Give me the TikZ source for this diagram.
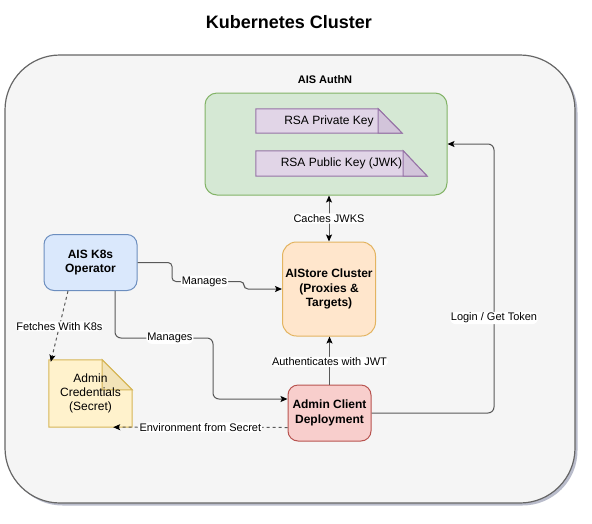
\documentclass[tikz,border=0pt]{standalone}
\usepackage{fontspec}
\setmainfont{Liberation Sans}
\usetikzlibrary{arrows.meta,shadows}
\definecolor{contfill}{HTML}{F5F5F5}
\definecolor{contdraw}{HTML}{666666}
\definecolor{grfill}{HTML}{D5E8D4}
\definecolor{grdraw}{HTML}{82B366}
\definecolor{pufill}{HTML}{E1D5E7}
\definecolor{pudraw}{HTML}{9673A6}
\definecolor{pufold}{HTML}{D2C4DA}
\definecolor{blfill}{HTML}{DAE8FC}
\definecolor{bldraw}{HTML}{6C8EBF}
\definecolor{orfill}{HTML}{FFE6CC}
\definecolor{ordraw}{HTML}{E3B461}
\definecolor{rdfill}{HTML}{F8CECC}
\definecolor{rddraw}{HTML}{B85450}
\definecolor{yefill}{HTML}{FFF2CC}
\definecolor{yedraw}{HTML}{D6B656}
\definecolor{yefold}{HTML}{F2E3B8}
\definecolor{shadowcol}{HTML}{8A8FA8}
\pgfdeclarelayer{back}
\pgfdeclarelayer{shapes}
\pgfsetlayers{back,shapes,main}
\begin{document}
\begin{tikzpicture}[x=1pt,y=-1pt,
  box/.style={draw, rounded corners=10pt, line width=1pt, align=center,
    font=\bfseries\fontsize{12}{14.5}\selectfont, inner sep=0pt},
  plain/.style={inner sep=0pt, align=center, font=\fontsize{12}{14}\selectfont},
  lbl/.style={fill=white, inner sep=1pt, font=\fontsize{11}{13}\selectfont, text=black},
  conn/.style={draw=black!65, line width=1pt, rounded corners=6pt,
    -{Stealth[length=7pt,width=6pt,inset=1.5pt,color=black]}},
  dconn/.style={conn, dash pattern=on 3pt off 3pt},
  keyshape/.style={fill=pufill, draw=pudraw, line width=1pt},
  notefold/.style={line width=1pt}
]
\useasboundingbox (0,0) rectangle (592,523);

\begin{pgfonlayer}{back}
\node[draw=contdraw, fill=contfill, line width=1.2pt, rounded corners=55pt,
  minimum width=570pt, minimum height=448pt,
  drop shadow={shadow xshift=2.5pt, shadow yshift=-2.5pt, fill=shadowcol, opacity=0.6}]
  (k8s) at (290,279) {};
\node[draw=grdraw, fill=grfill, line width=1pt, rounded corners=12pt,
  minimum width=242pt, minimum height=102pt] (authn) at (326,144) {};
\end{pgfonlayer}

\node[font=\bfseries\fontsize{18}{20}\selectfont] (title) at (289,22) {Kubernetes Cluster};
\node[font=\bfseries\fontsize{11}{13}\selectfont] (authnlbl) at (325,80) {AIS AuthN};

% RSA keys
\node[plain, minimum width=146pt, minimum height=24pt] (pk) at (329,121) {RSA Private Key};
\node[plain, minimum width=171pt, minimum height=25pt] (pub) at (341.5,163.5) {RSA Public Key (JWK)};
\begin{pgfonlayer}{shapes}
\draw[keyshape] (pk.north west) -- ([xshift=-24pt]pk.north east) -- (pk.south east) -- (pk.south west) -- cycle;
\draw[keyshape, fill=pufold] ([xshift=-24pt]pk.north east) -- (pk.south east) -- ([xshift=-24pt]pk.south east) -- cycle;
\draw[keyshape] (pub.north west) -- ([xshift=-24pt]pub.north east) -- (pub.south east) -- (pub.south west) -- cycle;
\draw[keyshape, fill=pufold] ([xshift=-24pt]pub.north east) -- (pub.south east) -- ([xshift=-24pt]pub.south east) -- cycle;
\end{pgfonlayer}

% main boxes
\node[box, fill=blfill, draw=bldraw, minimum width=93pt, minimum height=56pt] (op) at (90.5,262.5) {AIS K8s\\Operator};
\node[box, fill=orfill, draw=ordraw, rounded corners=14pt, minimum width=93pt, minimum height=94pt] (ais) at (329,289) {AIStore Cluster\\(Proxies \&\\Targets)};
\node[box, fill=rdfill, draw=rddraw, minimum width=83pt, minimum height=56pt] (admin) at (329.5,413) {Admin Client\\Deployment};

% credentials note
\node[plain, minimum width=83pt, minimum height=67pt] (cred) at (90.5,393.5) {Admin\\Credentials\\(Secret)};
\begin{pgfonlayer}{shapes}
\draw[fill=yefill, draw=yedraw, line width=1pt] (cred.north west) -- ([xshift=-30pt]cred.north east)
  -- ([yshift=-30pt]cred.north east) -- (cred.south east) -- (cred.south west) -- cycle;
\draw[fill=yefold, draw=yedraw, line width=1pt] ([xshift=-30pt]cred.north east)
  -- ([xshift=-30pt,yshift=-30pt]cred.north east) -- ([yshift=-30pt]cred.north east) -- cycle;
\end{pgfonlayer}

% connectors
\draw[conn, {Stealth[length=7pt,width=6pt,inset=1.5pt,color=black]}-{Stealth[length=7pt,width=6pt,inset=1.5pt,color=black]}]
  (ais.north |- authn.south) -- node[lbl]{Caches JWKS} (ais.north);
\draw[conn, rounded corners=4pt] (op.east) -- (172,262.5) -- (172,281.5)
  -- node[lbl, pos=0.45]{Manages} (244,281.5) -- (244,289) -- (ais.west);
\draw[conn] ([xshift=24.5pt]op.south) -- (115,338) -- node[lbl, pos=0.56]{Manages} (213,338)
  -- (213,399) -- ([yshift=14pt]admin.west);
\draw[conn] (admin.north) -- node[lbl, pos=0.47]{Authenticates with JWT} (admin.north |- ais.south);
\draw[conn] (admin.east) -- (494,413) -- node[lbl, pos=0.353]{Login / Get Token} (494,144) -- (authn.east);
\draw[dconn] ([xshift=-22.5pt]op.south) -- node[lbl, pos=0.5]{Fetches With K8s} ([xshift=2pt,yshift=-2pt]cred.north west);
\draw[dconn] ([yshift=14pt]admin.south west) -- node[lbl, pos=0.5]{Environment from Secret} ([xshift=-19pt]cred.south east);
\end{tikzpicture}
\end{document}
